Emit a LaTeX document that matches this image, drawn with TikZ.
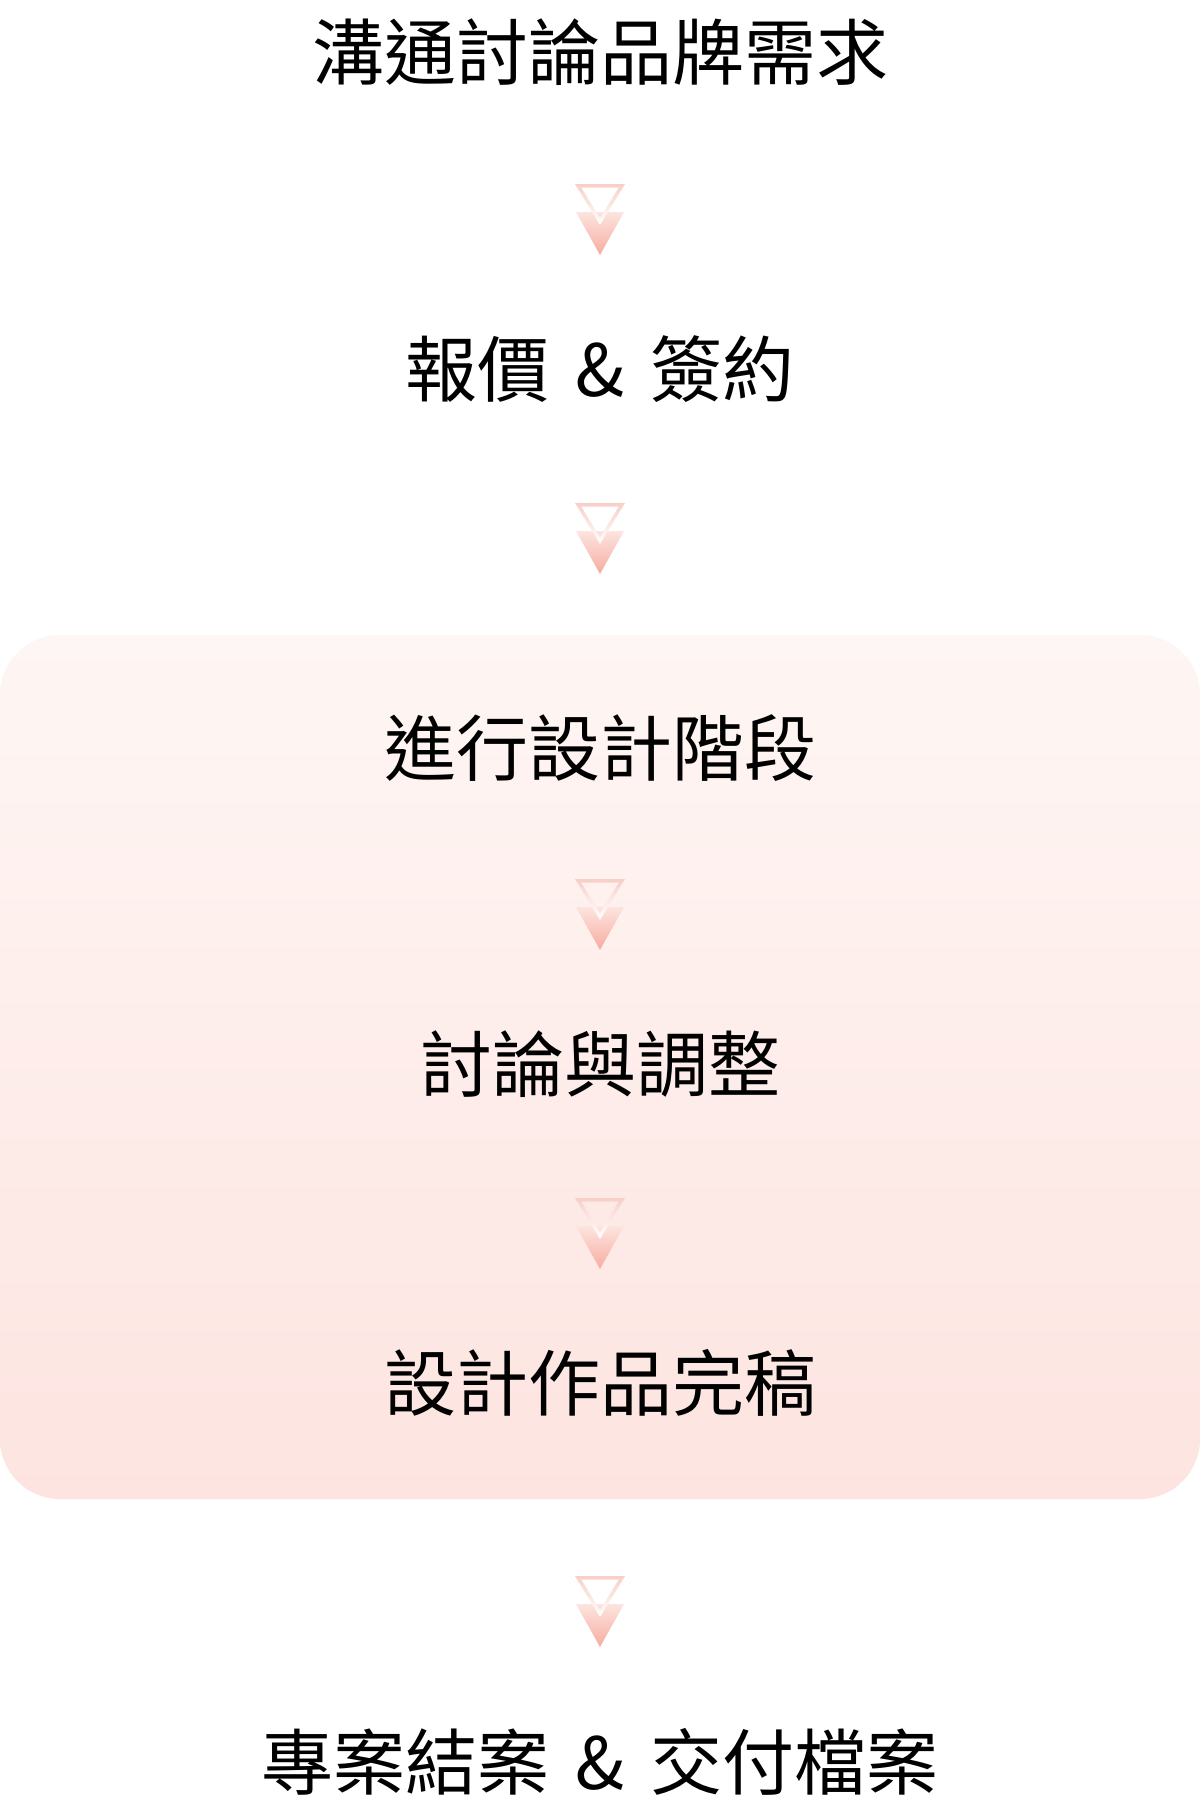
\documentclass[tikz,border=0pt]{standalone}
\usepackage{fontspec}
\newfontfamily\cjk{Noto Sans CJK TC}
\definecolor{boxtop}{RGB}{254,246,244}
\definecolor{boxbot}{RGB}{253,228,224}
\definecolor{tripink}{RGB}{246,172,160}
\definecolor{trilight}{RGB}{252,228,223}
\definecolor{outlinepink}{RGB}{248,207,200}
\tikzset{
  lbl/.style={font=\cjk\fontsize{72}{86}\selectfont, inner sep=0pt, text height=63.4pt, text depth=8.6pt, text=black},
  fillarrow/.style={top color=trilight, bottom color=tripink},
  outlinearrow/.style={top color=outlinepink, bottom color=white, even odd rule}
}
\newcommand\amp{\hspace{0.14em} \& \hspace{0.14em}}
\newcommand\flowarrow[1]{%
  \begin{scope}[shift={(#1)}]
    \shade[fillarrow] (-24,28) -- (24,28) -- (0,71) -- cycle;
    \shade[outlinearrow] (-25,0) -- (25,0) -- (0,41) -- cycle
      (-18.8,3.5) -- (18.8,3.5) -- (0,34.3) -- cycle;
  \end{scope}}
\begin{document}
\begin{tikzpicture}[x=1pt,y=-1pt]
  \useasboundingbox (0,0) rectangle (1200,1818);
  \fill[white] (0,0) rectangle (1200,1818);
  \shade[top color=boxtop, bottom color=boxbot, rounded corners=60pt] (0,635) rectangle (1200,1499);
  \node[lbl] (t1) at (600,52) {溝通討論品牌需求};
  \node[lbl] (t2) at (600,369) {報價\amp 簽約};
  \node[lbl] (t3) at (600,748) {進行設計階段};
  \node[lbl] (t4) at (600,1064) {討論與調整};
  \node[lbl] (t5) at (600,1383) {設計作品完稿};
  \node[lbl] (t6) at (600,1762) {專案結案\amp 交付檔案};
  \coordinate (a1) at (600,184);
  \coordinate (a2) at (600,503);
  \coordinate (a3) at (600,879);
  \coordinate (a4) at (600,1198);
  \coordinate (a5) at (600,1576);
  \flowarrow{a1}
  \flowarrow{a2}
  \flowarrow{a3}
  \flowarrow{a4}
  \flowarrow{a5}
\end{tikzpicture}
\end{document}
